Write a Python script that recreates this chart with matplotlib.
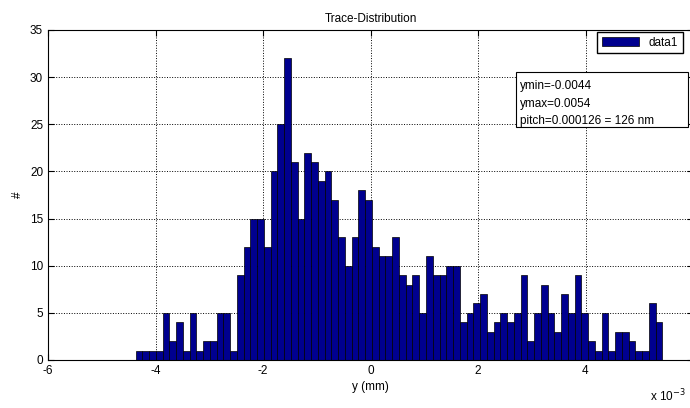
import numpy as np
import matplotlib.pyplot as plt
from matplotlib.patches import Rectangle

plt.rcParams['font.family'] = ['Liberation Sans', 'DejaVu Sans']

# histogram of trace positions, x in units of 1e-3 mm
y_min = -4.4
y_max = 5.4
counts = [1, 1, 1, 1, 5, 2, 4, 1, 5, 1, 2, 2, 5, 5, 1, 9, 12, 15, 15, 12,
          20, 25, 32, 21, 15, 22, 21, 19, 20, 17, 13, 10, 13, 18, 17, 12, 11, 11, 13, 9,
          8, 9, 5, 11, 9, 9, 10, 10, 4, 5, 6, 7, 3, 4, 5, 4, 5, 9, 2, 5,
          8, 5, 3, 7, 5, 9, 5, 2, 1, 5, 1, 3, 3, 2, 1, 1, 6, 4]
xtick_labels = ["-6", "-4", "-2", "0", "2", "4", ""]
info_lines = ["ymin=-0.0044", "ymax=0.0054", "pitch=0.000126 = 126 nm"]

edges = np.linspace(y_min + 0.03, y_max + 0.03, len(counts) + 1)
width = edges[1] - edges[0]

W, H = 690, 408
fig = plt.figure(figsize=(6.9, 4.08), dpi=100)
ax = fig.add_axes([48/W, 48/H, 645/W, 330/H])

ax.bar(edges[:-1], counts, width=width, align='edge', color=(0, 0, 0.5625),
       edgecolor='black', linewidth=0.5, label='data1', zorder=2)

ax.set_xlim(-6, 6)
ax.set_ylim(0, 35)
ax.set_xticks(np.arange(-6, 7, 2))
ax.set_xticklabels(xtick_labels)
ax.set_yticks(np.arange(0, 36, 5))
ax.tick_params(direction='in', labelsize=8.5, length=4, top=True, right=True)
ax.grid(True, linestyle=':', color='black', linewidth=0.7, zorder=0)
ax.set_axisbelow(True)

ax.set_title("Trace-Distribution", fontsize=8.5, pad=6)
ax.set_xlabel("y (mm)", fontsize=8.5, labelpad=3)
ax.set_ylabel("#", fontsize=8.5)
fig.text(686/W, 1 - 388/H, r"x 10$^{-3}$", ha='right', va='top', fontsize=8.5)

ax.legend(loc='upper right', bbox_to_anchor=(683/W, 1 - 32/H),
          bbox_transform=fig.transFigure, fontsize=8.5, fancybox=False,
          edgecolor='black', framealpha=1, borderaxespad=0, handlelength=3.2)

# info box (text runs past its lower border, as in the original)
fig.patches.append(Rectangle((516/W, 1 - 127/H), 172/W, 55/H, transform=fig.transFigure,
                             facecolor='white', edgecolor='black', linewidth=0.8, zorder=3))
for i, line in enumerate(info_lines):
    fig.text(520/W, 1 - (86 + 17.5 * i)/H, line, ha='left', va='center',
             fontsize=8.5, zorder=4)

fig.savefig("out.png", dpi=100)
